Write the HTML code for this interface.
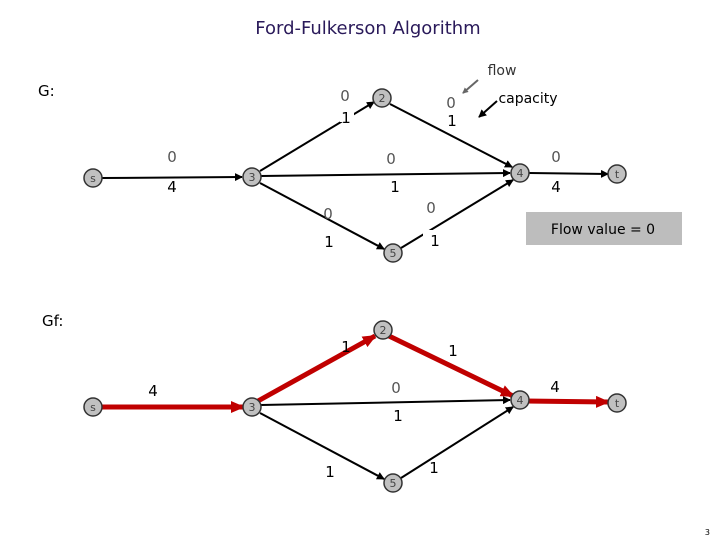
<!DOCTYPE html>
<html><head><style>
body{margin:0;background:#fff}
svg{display:block}
text{font-family:"DejaVu Sans","Liberation Sans",sans-serif;}
</style></head><body>
<svg width="720" height="540" viewBox="0 0 720 540">
<defs>
<marker id="ab" markerWidth="8" markerHeight="8" refX="7" refY="4" orient="auto" markerUnits="userSpaceOnUse"><path d="M0,0L8,4L0,8z" fill="#000"/></marker>
<marker id="ar" markerWidth="14" markerHeight="12" refX="12" refY="6" orient="auto" markerUnits="userSpaceOnUse"><path d="M0,0L14,6L0,12z" fill="#c00000"/></marker>
<marker id="ag" markerWidth="6" markerHeight="6" refX="5" refY="3" orient="auto" markerUnits="userSpaceOnUse"><path d="M0,0L6,3L0,6z" fill="#666"/></marker>
</defs>
<text x="368" y="34" font-size="18" text-anchor="middle" fill="#2a1a5a">Ford-Fulkerson Algorithm</text>
<text x="38" y="96" font-size="15">G:</text>
<text x="42" y="326" font-size="15">Gf:</text>
<text x="710" y="535" font-size="8" text-anchor="end">3</text>

<g stroke="#000" stroke-width="2" fill="none" marker-end="url(#ab)">
<line x1="102" y1="178" x2="242" y2="177"/>
<line x1="260" y1="171" x2="374" y2="102"/>
<line x1="390" y1="104" x2="512" y2="167"/>
<line x1="261" y1="176" x2="510" y2="173"/>
<line x1="260" y1="183" x2="384" y2="249"/>
<line x1="401" y1="248" x2="513" y2="180"/>
<line x1="529" y1="173" x2="608" y2="174"/>
<line x1="261" y1="405" x2="510" y2="400"/>
<line x1="260" y1="413" x2="384" y2="479"/>
<line x1="401" y1="478" x2="513" y2="407"/>
</g>
<g stroke="#c00000" stroke-width="5" fill="none" marker-end="url(#ar)">
<line x1="100" y1="407" x2="243" y2="407"/>
<line x1="258" y1="401" x2="375" y2="336"/>
<line x1="389" y1="336" x2="513" y2="396"/>
<line x1="525" y1="401" x2="608" y2="402"/>
</g>
<g fill="#fff">
<rect x="340" y="108" width="14" height="14"/><rect x="423" y="230" width="14" height="14"/><rect x="303" y="228" width="14" height="12"/>
<rect x="373" y="456" width="12" height="14"/><rect x="368" y="220" width="1" height="1"/>
</g>
<line x1="478" y1="80" x2="463" y2="93" stroke="#666" stroke-width="2" marker-end="url(#ag)"/>
<line x1="497" y1="101" x2="479" y2="117" stroke="#000" stroke-width="2" marker-end="url(#ab)"/>
<g fill="#c0c0c0" stroke="#333" stroke-width="1.5">
<circle cx="93" cy="178" r="9"/><circle cx="252" cy="177" r="9"/><circle cx="382" cy="98" r="9"/><circle cx="520" cy="173" r="9"/><circle cx="617" cy="174" r="9"/><circle cx="393" cy="253" r="9"/>
<circle cx="93" cy="407" r="9"/><circle cx="252" cy="407" r="9"/><circle cx="383" cy="330" r="9"/><circle cx="520" cy="400" r="9"/><circle cx="617" cy="403" r="9"/><circle cx="393" cy="483" r="9"/>
</g>
<g font-size="11" text-anchor="middle" fill="#444">
<text x="93" y="182">s</text><text x="252" y="181">3</text><text x="382" y="102">2</text><text x="520" y="177">4</text><text x="617" y="178">t</text><text x="393" y="257">5</text>
<text x="93" y="411">s</text><text x="252" y="411">3</text><text x="383" y="334">2</text><text x="520" y="404">4</text><text x="617" y="407">t</text><text x="393" y="487">5</text>
</g>
<g font-size="15" text-anchor="middle" fill="#555">
<text x="345" y="101">0</text><text x="451" y="108">0</text><text x="172" y="162">0</text><text x="391" y="164">0</text><text x="556" y="162">0</text><text x="328" y="219">0</text><text x="431" y="213">0</text>
<text x="396" y="393">0</text>
</g>
<g font-size="15" text-anchor="middle" fill="#000">
<text x="346" y="123">1</text><text x="452" y="126">1</text><text x="172" y="192">4</text><text x="395" y="192">1</text><text x="556" y="192">4</text><text x="329" y="247">1</text><text x="435" y="246">1</text>
<text x="346" y="352">1</text><text x="453" y="356">1</text><text x="153" y="396">4</text><text x="398" y="421">1</text><text x="555" y="392">4</text><text x="330" y="477">1</text><text x="434" y="473">1</text>
</g>
<text x="502" y="75" font-size="14" text-anchor="middle" fill="#333">flow</text>
<text x="528" y="103" font-size="14" text-anchor="middle" fill="#000">capacity</text>
<rect x="526" y="212" width="156" height="33" fill="#bdbdbd"/>
<text x="603" y="234" font-size="14" text-anchor="middle" fill="#000">Flow value = 0</text>
</svg>
</body></html>
